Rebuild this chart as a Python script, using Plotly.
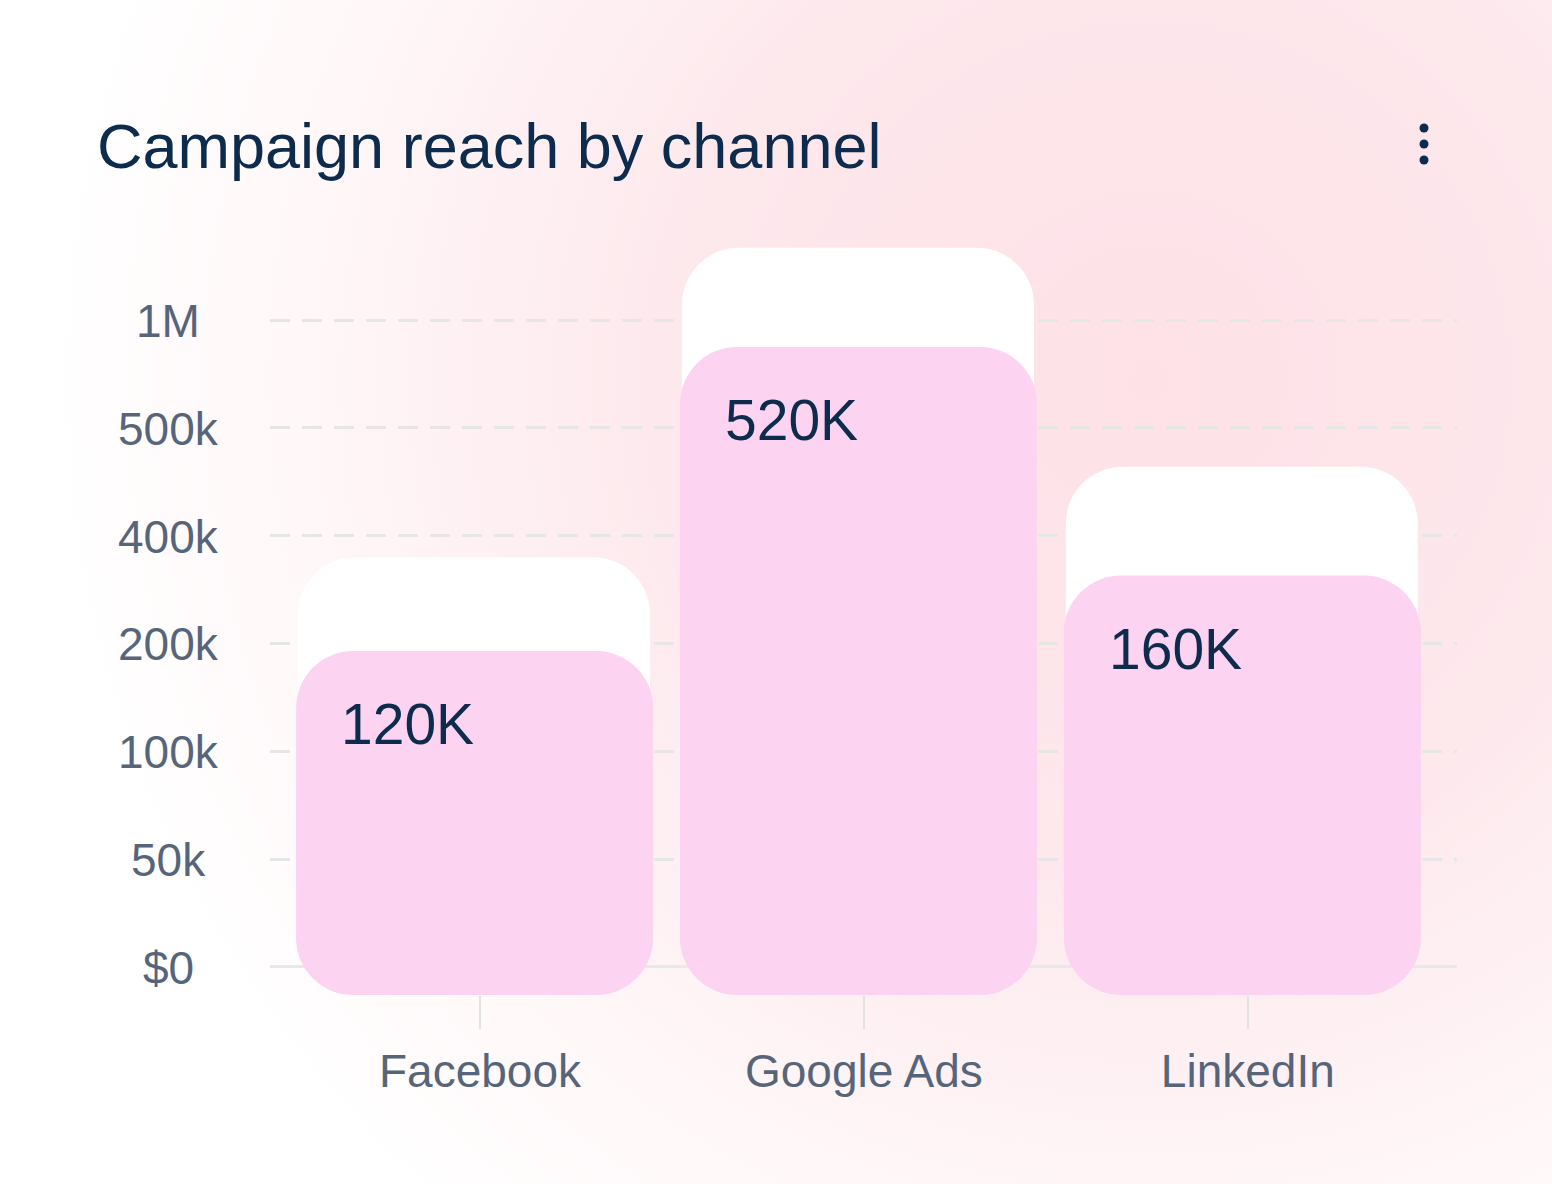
import base64
import plotly.graph_objects as go

# ---- data ----
channels = ["Facebook", "Google Ads", "LinkedIn"]
reach_labels = ["120K", "520K", "160K"]
reach_level = [2.93, 5.75, 3.63]     # pink bar tops, on the chart's tick-index scale
target_level = [3.80, 6.67, 4.64]    # white backing bar tops, same scale
y_tick_labels = ["$0", "50k", "100k", "200k", "400k", "500k", "1M"]

# ---- styling constants ----
W, H = 1552, 1184
ML, MR, MT, MB = 270, 95, 200, 189
PW, PH = W - ML - MR, H - MT - MB
FLOOR = -0.26
Y_TOP = 7.113
PINK = "#fcd3f0"
NAVY = "#0d2b4c"
SLATE = "#56657a"
FONT = "Liberation Sans, Arial, sans-serif"

svg = f'''<svg xmlns="http://www.w3.org/2000/svg" width="{W}" height="{H}" viewBox="0 0 {W} {H}">
<defs><radialGradient id="g" gradientUnits="userSpaceOnUse" cx="1150" cy="380" r="1100">
<stop offset="0" stop-color="#fde1e7"/><stop offset="0.45" stop-color="#fde9ed"/>
<stop offset="0.8" stop-color="#fff8f9"/><stop offset="1" stop-color="#ffffff"/></radialGradient></defs>
<rect width="{W}" height="{H}" fill="#ffffff"/><rect width="{W}" height="{H}" fill="url(#g)"/></svg>'''
bg_src = "data:image/svg+xml;base64," + base64.b64encode(svg.encode()).decode()

fig = go.Figure()

RADIUS = 57
white_base = 0.35
fig.add_trace(go.Bar(
    x=channels, y=[t - white_base for t in target_level], base=white_base,
    width=0.917, offset=-0.474, marker=dict(color="#ffffff", cornerradius=RADIUS, line=dict(width=0)),
    hoverinfo="skip", showlegend=False))
# lower pink piece, drawn downward so its rounded end sits at the bottom
low_top = FLOOR + 2.2
fig.add_trace(go.Bar(
    x=channels, y=[FLOOR - low_top] * len(channels), base=low_top,
    width=0.93, offset=-0.479, marker=dict(color=PINK, cornerradius=RADIUS, line=dict(width=0)),
    hoverinfo="skip", showlegend=False))
# upper pink piece, rounded top
up_base = 0.35
fig.add_trace(go.Bar(
    x=channels, y=[r - up_base for r in reach_level], base=up_base,
    width=0.93, offset=-0.479, marker=dict(color=PINK, cornerradius=RADIUS, line=dict(width=0)),
    hoverinfo="skip", showlegend=False))

annotations = []
for i, lab in enumerate(y_tick_labels):
    annotations.append(dict(x=(168 - ML) / PW, xref="paper", y=i, yref="y", text=lab,
                            showarrow=False, xanchor="center", yanchor="middle", yshift=-1,
                            font=dict(family=FONT, size=46, color=SLATE)))
for c, lvl, lab in zip(channels, reach_level, reach_labels):
    annotations.append(dict(x=c, xref="x", y=lvl, yref="y", text=lab, showarrow=False,
                            xanchor="left", yanchor="top", xshift=-141, yshift=-39,
                            font=dict(family=FONT, size=57, color=NAVY)))
annotations.append(dict(x=(95 - ML) / PW, xref="paper", y=1 + (MT - 146) / PH, yref="paper",
                        text="Campaign reach by channel", showarrow=False,
                        xanchor="left", yanchor="middle",
                        font=dict(family=FONT, size=63, color=NAVY)))

shapes = []
for py in (128, 144, 160):
    shapes.append(dict(type="circle", xref="paper", yref="paper",
                       xsizemode="pixel", ysizemode="pixel",
                       xanchor=(1424 - ML) / PW, yanchor=1 + (MT - py) / PH,
                       x0=-4.5, x1=4.5, y0=-4.5, y1=4.5,
                       fillcolor=NAVY, line=dict(width=0)))

fig.update_layout(
    width=W, height=H, margin=dict(l=ML, r=MR, t=MT, b=MB),
    paper_bgcolor="#ffffff", plot_bgcolor="rgba(0,0,0,0)",
    barmode="overlay", showlegend=False,
    annotations=annotations, shapes=shapes,
    images=[dict(source=bg_src, xref="paper", yref="paper", x=-ML / PW, y=1 + MT / PH,
                 sizex=W / PW, sizey=H / PH, sizing="stretch", layer="below",
                 xanchor="left", yanchor="top")],
    xaxis=dict(type="category", range=[-0.547, 2.545], showgrid=False, showline=False,
               zeroline=False, ticks="outside", ticklen=33, tickwidth=2, tickcolor="#e2e2e2",
               tickfont=dict(family=FONT, size=46, color=SLATE), ticklabelstandoff=3),
    yaxis=dict(range=[FLOOR, Y_TOP], showticklabels=False, tickmode="array",
               tickvals=list(range(len(y_tick_labels))), showgrid=True,
               gridcolor="#e6e6e6", gridwidth=3, griddash="20px,12px",
               zeroline=True, zerolinecolor="#e8e8e8", zerolinewidth=3, showline=False),
)

fig.write_html("out.html")
